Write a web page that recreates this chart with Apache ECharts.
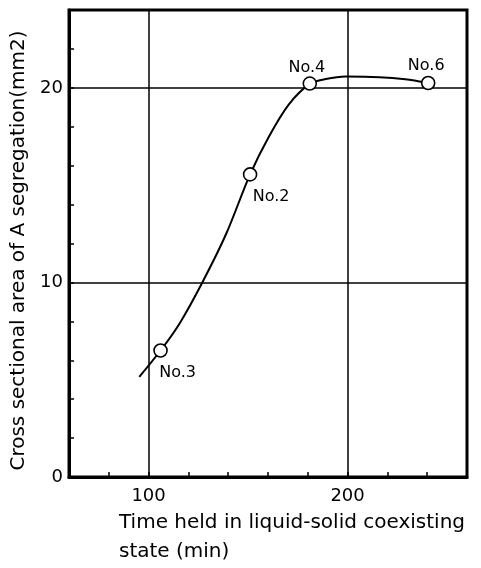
<!DOCTYPE html>
<html>
<head>
<meta charset="utf-8">
<script src="https://cdn.jsdelivr.net/npm/echarts@6/dist/echarts.min.js"></script>
<style>html,body{margin:0;padding:0;background:#fff;}#c{width:481px;height:568px;}</style>
</head>
<body>
<div id="c"></div>
<script>
// Measured samples (with their names)
const sampleNames = ['No.3', 'No.2', 'No.4', 'No.6'];
const sampleTime = [106, 151, 181, 240.5];
const sampleArea = [6.5, 15.55, 20.22, 20.25];

// Fitted curve
const curveTime = [95.3, 106, 115.5, 127, 139, 151, 160.5, 170.5, 181, 189, 199, 216, 229, 240.5];
const curveArea = [5.14, 6.5, 7.88, 10.0, 12.5, 15.55, 17.5, 19.15, 20.2, 20.45, 20.58, 20.55, 20.44, 20.25];

// Axis settings and grid lines
const xGridLines = [100, 200];
const yGridLines = [10, 20];
const xTickLabels = ['100', '200'];
const yTickLabels = ['0', '10', '20'];

const xAxisTitle = 'Time held in liquid-solid coexisting\nstate (min)';
const yAxisTitle = 'Cross sectional area of A segregation(mm2)';

const labelOffsets = {'No.3': [17, 22], 'No.2': [21, 22], 'No.4': [-3, -16], 'No.6': [-2, -17]};

const FONT = 'DejaVu Sans';
const chart = echarts.init(document.getElementById('c'), null, {renderer: 'canvas'});

const markData = xGridLines.map(v => ({xAxis: v})).concat(yGridLines.map(v => ({yAxis: v})));

chart.setOption({
  backgroundColor: '#fff',
  animation: false,
  title: {
    text: xAxisTitle,
    left: 114,
    top: 503,
    textStyle: {fontFamily: FONT, fontSize: 20, fontWeight: 'normal', color: '#000', lineHeight: 29}
  },
  grid: {left: 69, top: 10, width: 398, height: 467, show: true, borderColor: '#000', borderWidth: 3,
         backgroundColor: 'transparent', containLabel: false, outerBoundsMode: 'none'},
  xAxis: {
    type: 'value', min: 60, max: 260, interval: 20,
    axisLine: {show: true, onZero: false, lineStyle: {color: '#000', width: 3}},
    axisTick: {show: true, inside: true, length: 5, lineStyle: {color: '#000', width: 1.5}},
    splitLine: {show: false},
    axisLabel: {
      fontFamily: FONT, fontSize: 18, color: '#000', margin: 10,
      formatter: v => xTickLabels.indexOf(String(v)) >= 0 ? String(v) : ''
    }
  },
  yAxis: {
    type: 'value', min: 0, max: 24, interval: 2,
    name: yAxisTitle, nameLocation: 'middle', nameGap: 39,
    nameTextStyle: {fontFamily: FONT, fontSize: 20, color: '#000', padding: [0, 0, 0, -14]},
    axisLine: {show: true, onZero: false, lineStyle: {color: '#000', width: 3}},
    axisTick: {show: true, inside: true, length: 5, lineStyle: {color: '#000', width: 1.5}},
    splitLine: {show: false},
    axisLabel: {
      fontFamily: FONT, fontSize: 18, color: '#000', margin: 6,
      formatter: v => yTickLabels.indexOf(String(v)) >= 0 ? String(v) : ''
    }
  },
  series: [
    {
      type: 'line',
      data: curveTime.map((t, i) => [t, curveArea[i]]),
      smooth: 0.3,
      showSymbol: false,
      lineStyle: {color: '#000', width: 2},
      z: 3,
      markLine: {
        silent: true, symbol: 'none', label: {show: false},
        lineStyle: {color: '#000', width: 1.5, type: 'solid'},
        data: markData
      }
    },
    {
      type: 'scatter',
      data: sampleTime.map((t, i) => ({
        value: [t, sampleArea[i]],
        name: sampleNames[i],
        label: {offset: labelOffsets[sampleNames[i]]}
      })),
      symbol: 'circle', symbolSize: 13,
      itemStyle: {color: '#fff', borderColor: '#000', borderWidth: 1.6, opacity: 1},
      label: {show: true, position: 'inside', formatter: p => p.name, fontFamily: FONT, fontSize: 16, color: '#000'},
      z: 5
    }
  ]
});
</script>
</body>
</html>
